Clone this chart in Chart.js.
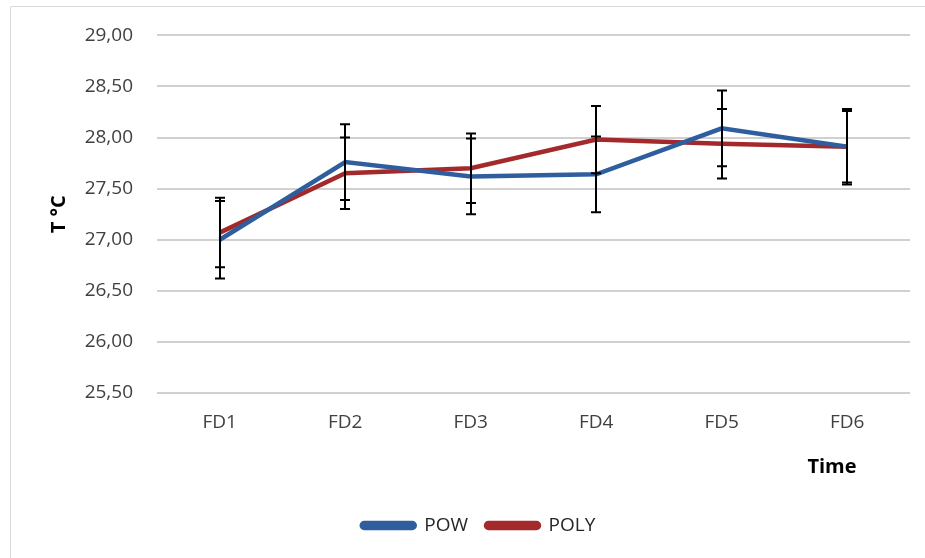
<!DOCTYPE html>
<html>
<head>
<meta charset="utf-8">
<script src="https://cdn.jsdelivr.net/npm/chart.js@4.4.1/dist/chart.umd.min.js"></script>
<style>
html,body{margin:0;padding:0;background:#fff;}
canvas{display:block;}
</style>
</head>
<body>
<canvas id="c" width="925" height="558"></canvas>
<script>
const categories = ["FD1", "FD2", "FD3", "FD4", "FD5", "FD6"];
const powValues = [27.00, 27.76, 27.62, 27.64, 28.09, 27.91];
const powErrors = [0.38, 0.37, 0.37, 0.37, 0.37, 0.37];
const polyValues = [27.07, 27.65, 27.70, 27.98, 27.94, 27.91];
const polyErrors = [0.34, 0.35, 0.34, 0.33, 0.34, 0.35];
const yMin = 25.5, yMax = 29.0, yStep = 0.5;
const xTitle = 'Time';
const yTitle = 'T °C';

const FONT = "'Open Sans', 'DejaVu Sans', sans-serif";

const borderPlugin = {
  id: 'outerBorder',
  beforeDraw(chart) {
    const ctx = chart.ctx;
    ctx.save();
    ctx.fillStyle = '#ffffff';
    ctx.fillRect(0, 0, chart.width, chart.height);
    ctx.strokeStyle = '#d9d9d9';
    ctx.lineWidth = 1;
    ctx.beginPath();
    ctx.moveTo(10.5, chart.height);
    ctx.lineTo(10.5, 6.5);
    ctx.lineTo(chart.width, 6.5);
    ctx.stroke();
    ctx.restore();
  }
};

const xTitlePlugin = {
  id: 'xTitle',
  afterDraw(chart) {
    const ctx = chart.ctx;
    const area = chart.chartArea;
    ctx.save();
    ctx.font = "bold 20px " + FONT;
    ctx.fillStyle = '#000000';
    ctx.textAlign = 'center';
    ctx.textBaseline = 'middle';
    ctx.fillText(xTitle, area.right - 78, area.bottom + 74);
    ctx.restore();
  }
};

const errorBarPlugin = {
  id: 'errorBars',
  afterDatasetsDraw(chart) {
    const ctx = chart.ctx;
    const yScale = chart.scales.y;
    ctx.save();
    ctx.strokeStyle = '#000000';
    ctx.lineWidth = 2;
    chart.data.datasets.forEach((ds, di) => {
      const meta = chart.getDatasetMeta(di);
      const errs = ds.errors;
      meta.data.forEach((pt, i) => {
        const v = ds.data[i];
        const e = errs[i];
        const x = Math.round(pt.x);
        const yTop = yScale.getPixelForValue(v + e);
        const yBot = yScale.getPixelForValue(v - e);
        ctx.beginPath();
        ctx.moveTo(x, yTop);
        ctx.lineTo(x, yBot);
        ctx.moveTo(x - 5, yTop);
        ctx.lineTo(x + 5, yTop);
        ctx.moveTo(x - 5, yBot);
        ctx.lineTo(x + 5, yBot);
        ctx.stroke();
      });
    });
    ctx.restore();
  }
};

new Chart(document.getElementById('c'), {
  type: 'line',
  data: {
    labels: categories,
    datasets: [
      {
        label: 'POW',
        data: powValues,
        errors: powErrors,
        borderColor: '#2E5E9E',
        backgroundColor: '#2E5E9E',
        borderWidth: 4.5,
        pointRadius: 0,
        tension: 0
      },
      {
        label: 'POLY',
        data: polyValues,
        errors: polyErrors,
        borderColor: '#A3292B',
        backgroundColor: '#A3292B',
        borderWidth: 4.5,
        pointRadius: 0,
        tension: 0
      }
    ]
  },
  options: {
    responsive: false,
    animation: false,
    layout: { padding: { left: 47, right: 15, top: 22, bottom: 13 } },
    plugins: {
      legend: {
        display: true,
        position: 'bottom',
        labels: {
          font: { family: FONT, size: 19 },
          color: '#262626',
          boxWidth: 53,
          boxHeight: 5,
          useBorderRadius: true,
          borderRadius: 2.5,
          padding: 18
        }
      },
      tooltip: { enabled: false }
    },
    scales: {
      x: {
        offset: true,
        afterFit(scale) { scale.height = 105; },
        grid: { display: false, drawTicks: false },
        border: { display: false },
        ticks: {
          font: { family: FONT, size: 19 },
          color: '#404040',
          padding: 18
        },
        title: { display: false }
      },
      y: {
        min: yMin,
        max: yMax,
        afterFit(scale) { scale.width = 110; },
        grid: { color: '#d0d0d0', lineWidth: 2, drawTicks: false },
        border: { display: false },
        ticks: {
          stepSize: yStep,
          font: { family: FONT, size: 19 },
          color: '#404040',
          padding: 24,
          callback: (v) => Number(v).toFixed(2).replace('.', ',')
        },
        title: {
          display: true,
          text: yTitle,
          color: '#000000',
          font: { family: FONT, size: 20, weight: 'bold' },
          padding: { top: 0, bottom: 0 }
        }
      }
    }
  },
  plugins: [borderPlugin, errorBarPlugin, xTitlePlugin]
});
</script>
</body>
</html>
